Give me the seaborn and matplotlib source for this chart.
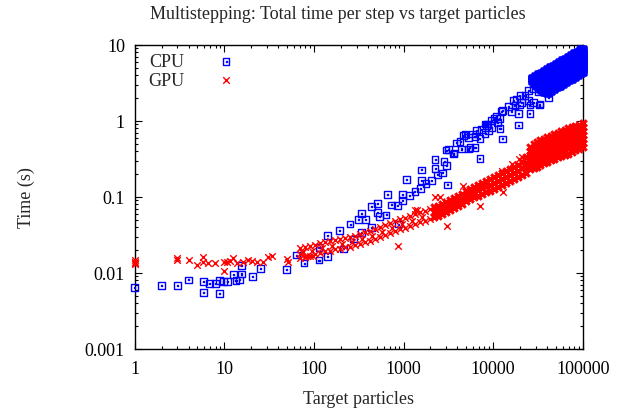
import matplotlib
matplotlib.use('Agg')
import matplotlib.pyplot as plt
from matplotlib.path import Path
from matplotlib.ticker import LogLocator, NullFormatter
import pandas as pd
import seaborn as sns

# ---- data ----
x_ticks = [1, 10, 100, 1000, 10000, 100000]
x_tick_labels = ['1', '10', '100', '1000', '10000', '100000']
y_ticks = [0.001, 0.01, 0.1, 1, 10]
y_tick_labels = ['0.001', '0.01', '0.1', '1', '10']

# CPU, scattered points
cpu_x = [1.0, 2.0, 3.0, 4.0, 5.9, 5.9, 6.9, 7.9, 8.8, 8.8, 9.8, 10.8, 12.6, 13.5,
         14.7, 15.6, 15.6, 20.5, 25.5, 49.7, 64, 77.6, 114, 114, 141, 141, 193,
         213, 253, 276, 313, 341, 341, 375, 442, 442, 510, 510, 537, 638, 660,
         738, 875, 853, 980, 980, 1086, 1161, 1343, 1556, 1596, 1596, 1783, 2064,
         2249, 2249, 2384, 2740, 2833, 3037, 3083, 2980, 3162, 3597, 3660, 3926,
         4274, 4463, 4650, 4853, 5285, 5285, 5520, 5920, 6280, 6280, 6560, 7140,
         7140, 7460, 8130, 8130, 8490, 8610, 8840, 9640, 9640, 10230, 10970,
         11140, 11730, 11940, 12480, 12670, 12800, 14790, 16140, 16830, 17550,
         18340, 19100, 19100, 19600, 19950, 20860, 22700, 24700, 24700, 25800,
         25800, 28100, 28100, 31900, 32800, 33350, 36300, 40300, 41300]
cpu_y = [0.0065, 0.0068, 0.0068, 0.0081, 0.0077, 0.0056, 0.0073, 0.0072, 0.0054,
         0.0079, 0.0078, 0.0078, 0.0095, 0.0079, 0.0081, 0.0097, 0.0125, 0.0089,
         0.0115, 0.0110, 0.0172, 0.0135, 0.0218, 0.0148, 0.031, 0.0164, 0.036,
         0.0207, 0.044, 0.028, 0.050, 0.060, 0.034, 0.050, 0.040, 0.0755, 0.083,
         0.063, 0.0557, 0.058, 0.107, 0.0785, 0.044, 0.077, 0.109, 0.089, 0.169,
         0.104, 0.117, 0.130, 0.227, 0.164, 0.151, 0.164, 0.31, 0.239, 0.195,
         0.207, 0.291, 0.258, 0.144, 0.415, 0.419, 0.368, 0.379, 0.514, 0.534,
         0.428, 0.641, 0.675, 0.428, 0.611, 0.451, 0.675, 0.451, 0.63, 0.745,
         0.592, 0.323, 0.769, 0.913, 0.675, 0.867, 0.913, 0.745, 0.826, 1.01,
         1.09, 1.15, 0.96, 1.09, 0.80, 1.32, 0.58, 1.37, 1.56, 1.32, 1.85, 1.59,
         1.95, 1.27, 0.885, 1.62, 2.15, 1.76, 2.15, 2.5, 1.85, 1.24, 1.62, 2.64,
         1.76, 2.43, 1.62, 1.67, 2.69, 2.5, 2.05]

# CPU, dense band at the top right (one list of times per particle count)
cpu_band_x = [27900, 30100, 32500, 35100, 38000, 41000, 44300, 47800, 51600,
              55800, 60200, 65100, 70300, 75900, 82000, 88600, 95700, 100000]
cpu_band_y = [
    [3.57, 3.4],
    [3.79, 3.4, 3.07],
    [4.03, 3.68, 3.3, 3.0, 2.8],
    [4.15, 3.8, 3.45, 3.15, 2.85, 2.56],
    [4.42, 4.0, 3.65, 3.3, 3.0, 2.7, 2.41],
    [4.69, 4.25, 3.9, 3.55, 3.2, 2.9, 2.6, 2.33],
    [4.98, 4.5, 4.1, 3.75, 3.4, 3.1, 2.8, 2.48],
    [5.14, 4.7, 4.3, 3.9, 3.55, 3.2, 2.9, 2.64],
    [5.46, 5.0, 4.55, 4.15, 3.75, 3.4, 3.1, 2.8],
    [5.79, 5.25, 4.8, 4.35, 3.95, 3.6, 3.25, 2.89],
    [6.16, 5.6, 5.1, 4.6, 4.2, 3.8, 3.45, 3.07],
    [6.35, 5.8, 5.25, 4.8, 4.35, 3.95, 3.6, 3.26],
    [6.75, 6.1, 5.55, 5.05, 4.6, 4.2, 3.8, 3.46],
    [7.17, 6.5, 5.9, 5.35, 4.85, 4.4, 4.0, 3.57],
    [7.62, 6.9, 6.3, 5.7, 5.2, 4.7, 4.25, 3.79],
    [7.85, 7.15, 6.5, 5.9, 5.35, 4.85, 4.4, 4.03],
    [8.35, 7.6, 6.9, 6.25, 5.7, 5.15, 4.7, 4.28],
    [8.6, 7.8, 7.1, 6.45, 5.85, 5.3, 4.85, 4.42],
]

# GPU, scattered points
gpu_x = [1, 1, 1, 1, 3.0, 3.0, 4.0, 4.9, 5.8, 5.8, 6.6, 7.9, 9.8, 9.8, 10.6, 11.6,
         12.6, 13.7, 16.3, 18.5, 20.2, 23, 27.2, 31, 33.8, 49.7, 51.7, 69.5, 76,
         79, 83, 98,
         70, 70, 73.8, 80, 80, 90, 90, 95, 103, 103, 117, 117, 123, 133, 133, 151,
         151, 159, 172, 172, 195, 195, 206, 222, 222, 253, 253, 266, 288, 288, 327,
         327, 344, 372, 372, 423, 423, 445, 481, 481, 547, 547, 575, 622, 622, 707,
         707, 744, 804, 804, 914, 914, 964, 1040, 1040, 1182, 1182, 1245, 1344,
         1344, 1528, 1528, 1610, 1738, 1738, 1976, 1976,
         875, 1343, 1400, 2250, 2530, 4650, 7140, 3083, 12480, 12740, 20860,
         16140, 19600]
gpu_y = [0.0131, 0.0136, 0.0141, 0.0147, 0.0156, 0.0150, 0.0150, 0.0127, 0.0161,
         0.0138, 0.0134, 0.0134, 0.0138, 0.0107, 0.0141, 0.0145, 0.0156, 0.0134,
         0.0138, 0.0148, 0.0145, 0.0138, 0.0141, 0.0161, 0.0169, 0.0153, 0.0138,
         0.0178, 0.0190, 0.0161, 0.0169, 0.0169,
         0.0213, 0.0158, 0.0189, 0.0220, 0.0162, 0.0226, 0.0167, 0.0195, 0.0233,
         0.0178, 0.0248, 0.0183, 0.0213, 0.0256, 0.0195, 0.0264, 0.0195, 0.0226,
         0.0272, 0.0207, 0.0280, 0.0207, 0.0241, 0.0289, 0.0220, 0.0298, 0.0220,
         0.0256, 0.0307, 0.0233, 0.0326, 0.0241, 0.0280, 0.0346, 0.0256, 0.0357,
         0.0264, 0.0307, 0.0379, 0.0280, 0.0403, 0.0298, 0.0346, 0.0428, 0.0316,
         0.0455, 0.0336, 0.0391, 0.0483, 0.0357, 0.0514, 0.0379, 0.0441, 0.053,
         0.0391, 0.0562, 0.0415, 0.0483, 0.0597, 0.0441, 0.0635, 0.0469, 0.0546,
         0.0655, 0.0483, 0.0695, 0.0514,
         0.0224, 0.0675, 0.0675, 0.099, 0.099, 0.141, 0.0755, 0.0419, 0.218,
         0.118, 0.333, 0.272, 0.316]

# GPU, dense band from ~2000 particles upward
gpu_band_x = [2191, 2429, 2693, 2985, 3306, 3665, 4064, 4500, 4990, 5530, 6125,
              6790, 7530, 8340, 9250, 10250, 11350, 12590, 13950, 15460, 17140,
              19000, 21040, 23330,
              25870, 28270, 30920, 33810, 36980, 40450, 44260, 48420, 52970,
              57950, 63400, 69360, 75980, 83100, 90900, 100000]
gpu_band_y = [
    [0.0738, 0.0635, 0.0546],
    [0.0762, 0.065, 0.0562],
    [0.081, 0.0695, 0.0597],
    [0.086, 0.074, 0.0635],
    [0.091, 0.078, 0.0675],
    [0.097, 0.083, 0.0716],
    [0.103, 0.088, 0.0762],
    [0.109, 0.094, 0.081],
    [0.120, 0.103, 0.0885],
    [0.127, 0.109, 0.094],
    [0.135, 0.116, 0.100],
    [0.144, 0.122, 0.103],
    [0.153, 0.130, 0.109],
    [0.162, 0.138, 0.116],
    [0.173, 0.144, 0.120],
    [0.183, 0.153, 0.127],
    [0.195, 0.162, 0.135],
    [0.207, 0.173, 0.144],
    [0.220, 0.183, 0.153],
    [0.233, 0.195, 0.162],
    [0.248, 0.207, 0.173],
    [0.264, 0.220, 0.183],
    [0.289, 0.240, 0.195],
    [0.336, 0.28, 0.240, 0.207],
    [0.455, 0.403, 0.357, 0.316, 0.280, 0.248, 0.233],
    [0.498, 0.441, 0.391, 0.346, 0.307, 0.272, 0.240],
    [0.529, 0.469, 0.415, 0.368, 0.326, 0.289, 0.248],
    [0.562, 0.498, 0.441, 0.391, 0.346, 0.307, 0.264],
    [0.580, 0.514, 0.455, 0.403, 0.357, 0.316, 0.280],
    [0.616, 0.545, 0.483, 0.428, 0.380, 0.336, 0.290],
    [0.635, 0.562, 0.498, 0.441, 0.391, 0.346, 0.307],
    [0.675, 0.600, 0.529, 0.469, 0.415, 0.368, 0.316],
    [0.695, 0.616, 0.545, 0.483, 0.428, 0.380, 0.336],
    [0.740, 0.655, 0.580, 0.514, 0.455, 0.403, 0.346],
    [0.762, 0.675, 0.600, 0.529, 0.469, 0.415, 0.357],
    [0.81, 0.716, 0.635, 0.562, 0.498, 0.441, 0.368],
    [0.834, 0.740, 0.655, 0.580, 0.514, 0.455, 0.391],
    [0.859, 0.762, 0.675, 0.600, 0.529, 0.469, 0.415],
    [0.885, 0.785, 0.695, 0.616, 0.545, 0.483, 0.428],
    [0.942, 0.834, 0.740, 0.655, 0.580, 0.514, 0.455],
]


def expand(xs, ys):
    px = [x for x, col in zip(xs, ys) for _ in col]
    py = [y for col in ys for y in col]
    return px, py


cpu = pd.DataFrame({'particles': cpu_x, 'time': cpu_y})
bx, by = expand(cpu_band_x, cpu_band_y)
cpu_band = pd.DataFrame({'particles': bx, 'time': by})
gpu = pd.DataFrame({'particles': gpu_x, 'time': gpu_y})
bx, by = expand(gpu_band_x, gpu_band_y)
gpu_band = pd.DataFrame({'particles': bx, 'time': by})

#%%
sns.set_style('ticks')
plt.rcParams['font.family'] = ['Liberation Serif', 'DejaVu Serif']
plt.rcParams['font.size'] = 13

fig = plt.figure(figsize=(6.24, 4.14), dpi=100)
ax = fig.add_axes([0.2159, 0.1546, 0.7179, 0.7343])

# gnuplot-like square with a dot in the middle
sq_dot = Path([(-1, -1), (1, -1), (1, 1), (-1, 1), (-1, -1),
               (-0.15, -0.15), (0.15, -0.15), (0.15, 0.15), (-0.15, 0.15), (-0.15, -0.15)],
              [Path.MOVETO, Path.LINETO, Path.LINETO, Path.LINETO, Path.CLOSEPOLY,
               Path.MOVETO, Path.LINETO, Path.LINETO, Path.LINETO, Path.CLOSEPOLY])

blue, red = '#0000ff', '#ff0000'

# the heavily overplotted regions: same markers, drawn heavier so they read as solid
sns.scatterplot(data=cpu_band, x='particles', y='time', ax=ax, marker=sq_dot, s=24,
                facecolor='none', edgecolor=blue, linewidth=2.6,
                clip_on=False, zorder=3)
sns.scatterplot(data=cpu, x='particles', y='time', ax=ax, marker=sq_dot, s=24,
                facecolor='none', edgecolor=blue, linewidth=1.0,
                label='CPU', clip_on=False, zorder=3)
sns.scatterplot(data=gpu_band, x='particles', y='time', ax=ax, marker='x', s=22,
                color=red, linewidth=2.2, clip_on=False, zorder=4)
sns.scatterplot(data=gpu, x='particles', y='time', ax=ax, marker='x', s=22,
                color=red, linewidth=1.0, label='GPU', clip_on=False, zorder=4)

ax.set_xscale('log')
ax.set_yscale('log')
ax.set_xlim(1, 1e5)
ax.set_ylim(1e-3, 10)
ax.set_xticks(x_ticks, x_tick_labels)
ax.set_yticks(y_ticks, y_tick_labels)
ax.xaxis.set_minor_locator(LogLocator(base=10, subs=range(2, 10)))
ax.yaxis.set_minor_locator(LogLocator(base=10, subs=range(2, 10)))
ax.xaxis.set_minor_formatter(NullFormatter())
ax.yaxis.set_minor_formatter(NullFormatter())
ax.tick_params(which='both', direction='in', top=True, right=True, width=0.8,
               labelsize=13, colors='black')
ax.tick_params(which='major', length=5)
ax.tick_params(which='minor', length=2.5)
ax.tick_params(axis='x', pad=8)
ax.tick_params(axis='y', pad=7)
for sp in ax.spines.values():
    sp.set_linewidth(1.0)
    sp.set_color('black')

ax.set_xlabel('Target particles', fontsize=13)
ax.set_ylabel('Time (s)', fontsize=13)
ax.xaxis.set_label_coords(0.5, -0.135)
ax.yaxis.set_label_coords(-0.222, 0.5)
fig.text(0.541, 0.966, 'Multistepping: Total time per step vs target particles',
         ha='center', va='center', fontsize=13)

ax.legend(loc='upper left', bbox_to_anchor=(0.0217, 0.985), frameon=False,
          markerfirst=False, handlelength=1.0, handletextpad=1.82,
          labelspacing=0.1, borderpad=0.2, borderaxespad=0.0, fontsize=13)

fig.savefig('out.png', dpi=100)
